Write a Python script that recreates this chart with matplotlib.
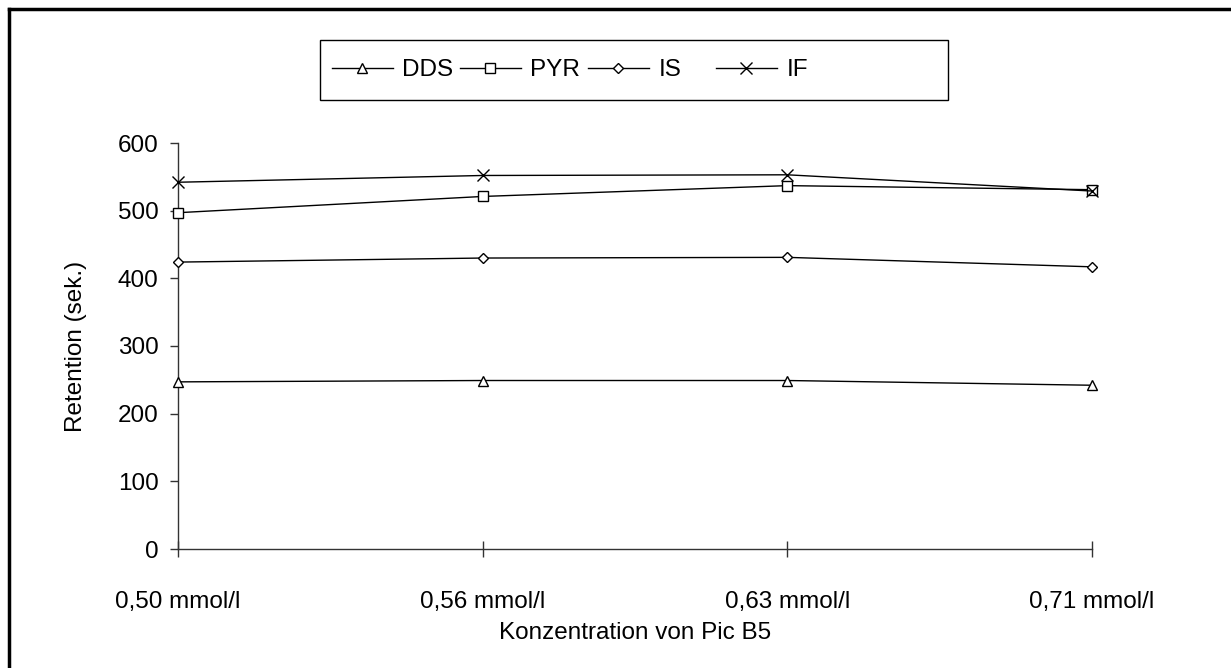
import matplotlib.pyplot as plt
from matplotlib.lines import Line2D
from matplotlib.patches import Rectangle
import numpy as np

# Daten: Retention bei verschiedenen Konzentrationen von Pic B5
konzentrationen = ["0,50 mmol/l", "0,56 mmol/l", "0,63 mmol/l", "0,71 mmol/l"]
dds = [247, 249, 249, 242]
pyr = [497, 521, 537, 531]
is_ = [424, 430, 431, 417]
if_ = [542, 552, 553, 529]

plt.rcParams["font.family"] = ["Liberation Sans", "DejaVu Sans"]
fs = 17.5
W, H = 1231, 668

fig = plt.figure(figsize=(W / 100, H / 100), dpi=100)
ax = fig.add_axes([178 / W, 1 - 549 / H, (1092 - 178) / W, (549 - 143) / H])

x = np.arange(len(konzentrationen))
stil = dict(color="black", lw=1, markerfacecolor="white", markeredgecolor="black",
            markeredgewidth=1, clip_on=False, zorder=3)
linien = [
    ax.plot(x, dds, marker="^", markersize=7, label="DDS", **stil)[0],
    ax.plot(x, pyr, marker="s", markersize=7, label="PYR", **stil)[0],
    ax.plot(x, is_, marker="D", markersize=5.5, label="IS", **stil)[0],
    ax.plot(x, if_, marker="x", markersize=8, label="IF", **stil)[0],
]

ax.set_xlim(0, 3)
ax.set_ylim(0, 600)
ax.set_yticks(range(0, 601, 100))
ax.set_xticks(x)
ax.set_xticklabels(konzentrationen)
ax.spines["top"].set_visible(False)
ax.spines["right"].set_visible(False)
for s in ("left", "bottom"):
    ax.spines[s].set_color("#333333")
    ax.spines[s].set_linewidth(1)
ax.tick_params(axis="y", direction="out", length=6, width=1, color="#333333", labelsize=fs, pad=8)
ax.tick_params(axis="x", direction="inout", length=12, width=1, color="#333333", labelsize=fs, pad=24)
ax.set_ylabel("Retention (sek.)", fontsize=fs, labelpad=22)
ax.set_xlabel("Konzentration von Pic B5", fontsize=fs, labelpad=7)

# Legende: vier gleich breite Einträge in einem Rahmen
fig.add_artist(Rectangle((320 / W, 1 - 100 / H), (948 - 320) / W, 60 / H,
                         transform=fig.transFigure, fill=False, edgecolor="black", lw=1))
for i, ln in enumerate(linien):
    lg = fig.legend([ln], [ln.get_label()], loc="center left",
                    bbox_to_anchor=((332 + 128 * i) / W, 1 - 70 / H),
                    fontsize=fs, frameon=False, handlelength=2.5, handletextpad=0.4,
                    borderpad=0, borderaxespad=0)

# Rahmen oben und links
fig.add_artist(Line2D([9 / W, 9 / W], [0, 1 - 9 / H], transform=fig.transFigure, color="black", lw=2.5))
fig.add_artist(Line2D([9 / W, 1], [1 - 9 / H, 1 - 9 / H], transform=fig.transFigure, color="black", lw=2.5))

fig.savefig("out.png", dpi=100)
